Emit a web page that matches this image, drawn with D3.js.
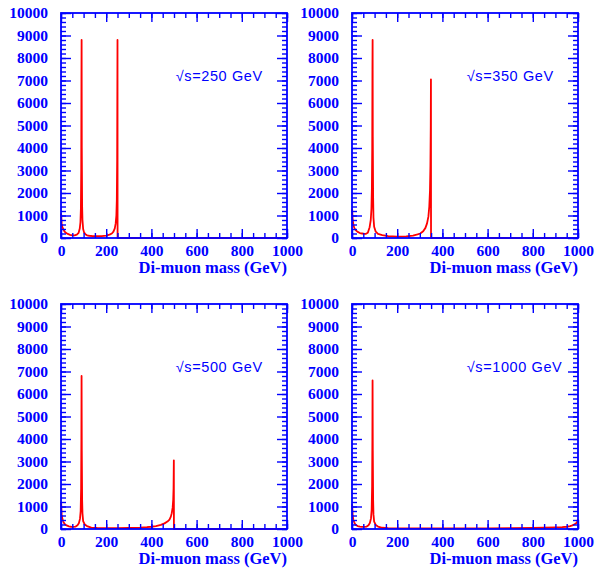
<!DOCTYPE html>
<html>
<head>
<meta charset="utf-8">
<script src="https://cdn.jsdelivr.net/npm/d3@7"></script>
<style>
    body { margin: 0; background: #fff; }
    svg { display: block; }
    .tick text { font-family: "Liberation Serif", "Times New Roman", serif; font-weight: bold; font-size: 15.5px; fill: #0000ff; }
</style>
</head>
<body>
<div id="chart"></div>
<script>
(function () {
    "use strict";

    // beam energies of the four pads
    const energies = [250, 350, 500, 1000];

    const mass250 = [0.5, 3, 6, 10, 15, 20, 30, 40, 50, 60, 70, 78, 83, 86, 88, 89.5, 90.5, 91.2, 92, 93.5, 95, 98, 102, 108, 115, 125, 140, 160, 180, 200, 215, 225, 232, 238, 242, 245, 247, 248.5, 249.3, 250, 250.4, 1000];
    const count250 = [1100, 650, 480, 400, 300, 240, 180, 140, 120, 120, 150, 230, 420, 700, 1300, 3000, 7000, 8800, 4000, 1400, 800, 400, 250, 170, 120, 100, 85, 80, 85, 110, 150, 200, 280, 430, 650, 1000, 1700, 3500, 6500, 8800, 0, 0];

    const mass350 = [0.5, 3, 6, 10, 16, 25, 35, 45, 55, 62, 70, 78, 83, 86, 88, 89.5, 90.5, 91.2, 92, 93.5, 95, 98, 105, 115, 134, 160, 200, 240, 270, 290, 302, 315, 325, 332, 338, 342, 345, 347, 348.5, 349.3, 349.7, 1000];
    const count350 = [1300, 800, 600, 450, 350, 270, 220, 200, 180, 185, 230, 480, 800, 1300, 2200, 4000, 7500, 8800, 4500, 1800, 900, 500, 280, 180, 133, 80, 65, 75, 110, 160, 200, 300, 450, 650, 950, 1400, 2100, 3200, 5000, 7050, 0, 0];

    const mass500 = [0.5, 3, 6, 10, 16, 25, 35, 45, 55, 65, 73, 79, 84, 87, 89, 90.2, 91, 92, 93.5, 95, 98, 105, 115, 134, 160, 200, 250, 300, 350, 380, 400, 420, 442, 458, 471, 480, 486, 490, 494, 496.5, 498, 499.3, 499.7, 1000];
    const count500 = [1200, 650, 450, 330, 220, 160, 120, 100, 95, 110, 170, 260, 450, 800, 1800, 4000, 6800, 3500, 1300, 700, 350, 200, 130, 60, 45, 40, 40, 45, 60, 80, 100, 130, 180, 250, 330, 420, 550, 700, 950, 1300, 1800, 3050, 0, 0];

    const mass1000 = [0.5, 3, 6, 10, 15, 25, 35, 45, 55, 65, 73, 79, 84, 87, 89, 90.2, 91, 92, 93.5, 95, 98, 105, 115, 134, 160, 200, 300, 400, 500, 600, 700, 800, 850, 900, 930, 950, 965, 975, 985, 992, 997, 1000];
    const count1000 = [1100, 600, 400, 300, 190, 130, 105, 95, 95, 110, 170, 270, 470, 850, 1900, 4000, 6600, 3500, 1300, 650, 330, 180, 110, 55, 40, 30, 25, 25, 25, 28, 35, 45, 55, 70, 85, 100, 130, 160, 210, 260, 320, 450];

    // tick labels
    const xTicks = [0, 200, 400, 600, 800, 1000];
    const yTicks = [0, 1000, 2000, 3000, 4000, 5000, 6000, 7000, 8000, 9000, 10000];

    const masses = [mass250, mass350, mass500, mass1000];
    const counts = [count250, count350, count500, count1000];

    const width = 598, height = 569;
    const padW = 226, padH = 225;
    const origins = [[61, 13], [352, 13], [61, 304], [352, 304]];
    const blue = "#0000ff";

    let svg = d3.select("#chart").append("svg").attr("width", width).attr("height", height);

    let x = d3.scaleLinear().domain([0, 1000]).range([0, padW]);
    let y = d3.scaleLinear().domain([0, 10000]).range([padH, 0]);

    let line = d3.line().x((d) => x(d[0])).y((d) => y(d[1]));

    let styleAxis = (g) => {
        g.select(".domain").remove();
        g.selectAll(".tick line").attr("stroke", blue).attr("stroke-width", 1.4);
    };

    energies.forEach((e, i) => {
        let g = svg.append("g").attr("transform", `translate(${origins[i][0]},${origins[i][1]})`);
        let pts = masses[i].map((m, k) => [m, counts[i][k]]);

        g.append("path")
            .datum(pts)
            .attr("d", line)
            .attr("fill", "none")
            .attr("stroke", "#ff0000")
            .attr("stroke-width", 1.8)
            .attr("stroke-linejoin", "round");

        // minor ticks on all four sides
        g.append("g").attr("transform", `translate(0,${padH})`)
            .call(d3.axisBottom(x).tickValues(d3.range(0, 1001, 50)).tickSize(-5).tickFormat(""))
            .call(styleAxis);
        g.append("g")
            .call(d3.axisTop(x).tickValues(d3.range(0, 1001, 50)).tickSize(-5).tickFormat(""))
            .call(styleAxis);
        g.append("g")
            .call(d3.axisLeft(y).tickValues(d3.range(0, 10001, 200)).tickSize(-5).tickFormat(""))
            .call(styleAxis);
        g.append("g").attr("transform", `translate(${padW},0)`)
            .call(d3.axisRight(y).tickValues(d3.range(0, 10001, 200)).tickSize(-5).tickFormat(""))
            .call(styleAxis);

        // major ticks with labels
        g.append("g").attr("transform", `translate(0,${padH})`)
            .call(d3.axisBottom(x).tickValues(xTicks).tickSize(-9).tickPadding(7).tickFormat(d3.format("d")))
            .call(styleAxis);
        g.append("g")
            .call(d3.axisTop(x).tickValues(xTicks).tickSize(-9).tickFormat(""))
            .call(styleAxis);
        g.append("g")
            .call(d3.axisLeft(y).tickValues(yTicks).tickSize(-10).tickPadding(13).tickFormat(d3.format("d")))
            .call(styleAxis);
        g.append("g").attr("transform", `translate(${padW},0)`)
            .call(d3.axisRight(y).tickValues(yTicks).tickSize(-10).tickFormat(""))
            .call(styleAxis);

        g.append("rect")
            .attr("width", padW)
            .attr("height", padH)
            .attr("fill", "none")
            .attr("stroke", blue)
            .attr("stroke-width", 1.8);

        g.append("text")
            .attr("x", padW)
            .attr("y", padH + 35)
            .attr("text-anchor", "end")
            .attr("font-family", "'Liberation Serif', 'Times New Roman', serif")
            .attr("font-weight", "bold")
            .attr("font-size", 16.5)
            .attr("fill", blue)
            .text("Di-muon mass (GeV)");

        g.append("text")
            .attr("x", x(508))
            .attr("y", y(6980))
            .attr("font-family", "'Liberation Sans', Arial, sans-serif")
            .attr("font-size", 14.5)
            .attr("letter-spacing", 0.6)
            .attr("fill", blue)
            .text(`√s=${e} GeV`);
    });
})();
</script>
</body>
</html>
